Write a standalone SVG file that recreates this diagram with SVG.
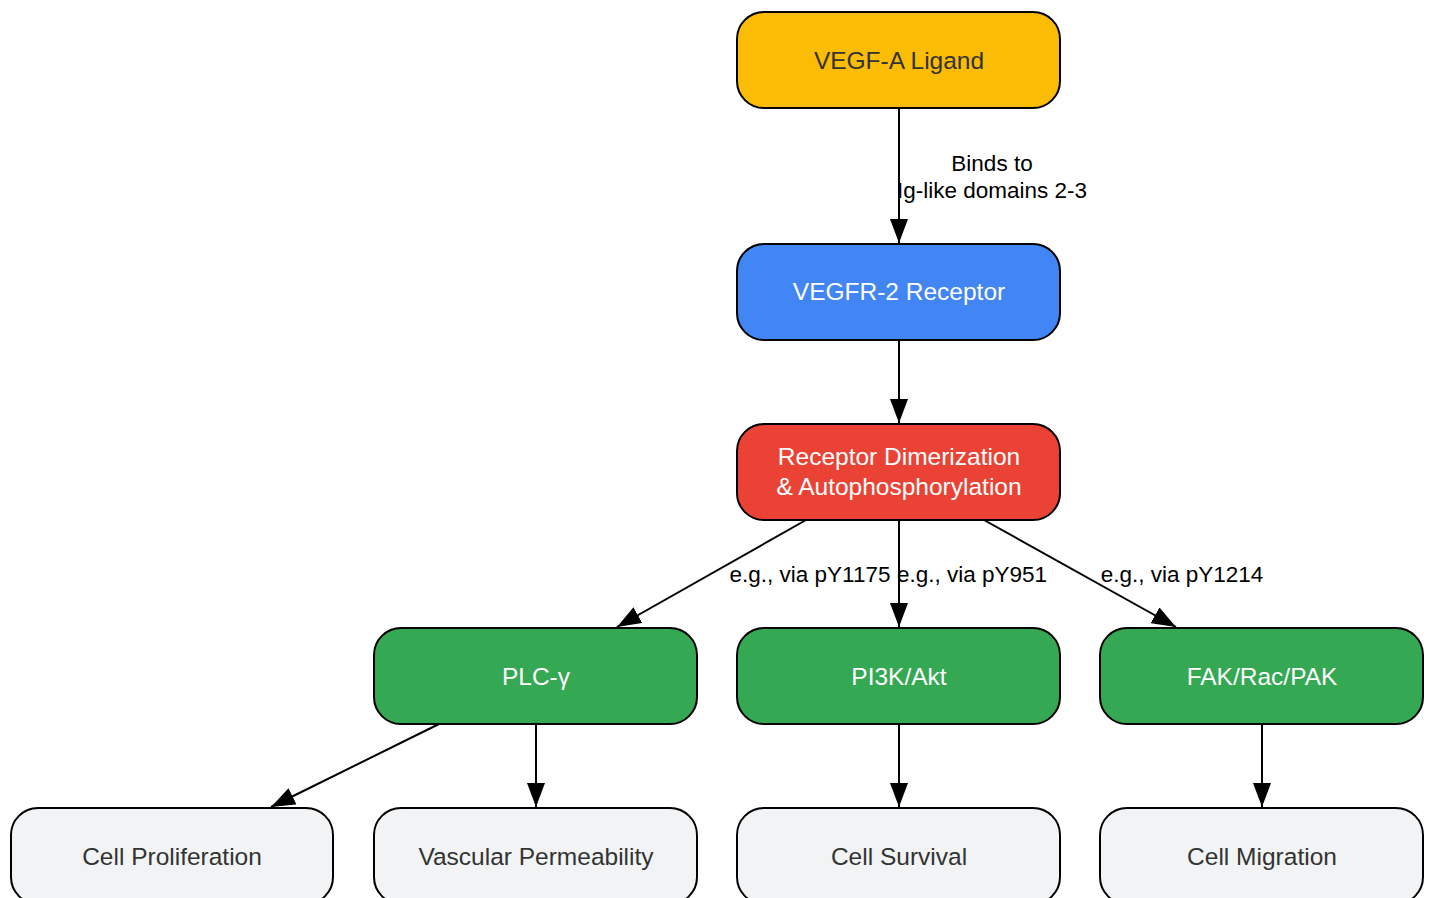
<svg xmlns="http://www.w3.org/2000/svg" width="1431" height="898" viewBox="0 0 1431 898">
<defs>
<marker id="arr" markerUnits="userSpaceOnUse" markerWidth="24" markerHeight="18" refX="24" refY="9" orient="auto">
<path d="M0,0 L24,9 L0,18 z" fill="#000"/>
</marker>
<style>
.n rect{stroke:#000;stroke-width:2}
.n text{font-family:"Liberation Sans",Arial,sans-serif;font-size:24.5px;text-anchor:middle}
.lt text{fill:#fff}
.dk text{fill:#333}
.e line{stroke:#000;stroke-width:2;marker-end:url(#arr)}
.lbl{font-family:"Liberation Sans",Arial,sans-serif;font-size:22.5px;text-anchor:middle;fill:#000}
</style>
</defs>
<rect width="1431" height="898" fill="#fff"/>
<g id="edge-labels">
<text class="lbl" x="992" y="171">Binds to</text>
<text class="lbl" x="992" y="198">Ig-like domains 2-3</text>
<text class="lbl" x="810" y="582">e.g., via pY1175</text>
<text class="lbl" x="972" y="582">e.g., via pY951</text>
<text class="lbl" x="1182" y="582">e.g., via pY1214</text>
</g>
<g id="edges" class="e">
<line x1="899" y1="108" x2="899" y2="243"/>
<line x1="899" y1="340" x2="899" y2="423"/>
<line x1="806" y1="520" x2="617" y2="627"/>
<line x1="899" y1="520" x2="899" y2="627"/>
<line x1="984" y1="520" x2="1176" y2="627"/>
<line x1="439" y1="724" x2="271" y2="807"/>
<line x1="536" y1="724" x2="536" y2="807"/>
<line x1="899" y1="724" x2="899" y2="807"/>
<line x1="1262" y1="724" x2="1262" y2="807"/>
</g>
<g id="vegfa" class="n dk"><rect x="737" y="12" width="323" height="96" rx="27" fill="#FBBC05"/><text x="899" y="69">VEGF-A Ligand</text></g>
<g id="vegfr2" class="n lt"><rect x="737" y="244" width="323" height="96" rx="27" fill="#4285F4"/><text x="899" y="300">VEGFR-2 Receptor</text></g>
<g id="dimer" class="n lt"><rect x="737" y="424" width="323" height="96" rx="27" fill="#EA4335"/><text x="899" y="465">Receptor Dimerization</text><text x="899" y="495">&amp; Autophosphorylation</text></g>
<g id="plc" class="n lt"><rect x="374" y="628" width="323" height="96" rx="27" fill="#34A853"/><text x="536" y="685">PLC-γ</text></g>
<g id="pi3k" class="n lt"><rect x="737" y="628" width="323" height="96" rx="27" fill="#34A853"/><text x="899" y="685">PI3K/Akt</text></g>
<g id="fak" class="n lt"><rect x="1100" y="628" width="323" height="96" rx="27" fill="#34A853"/><text x="1262" y="685">FAK/Rac/PAK</text></g>
<g id="prolif" class="n dk"><rect x="11" y="808" width="322" height="96" rx="27" fill="#F1F3F4"/><text x="172" y="865">Cell Proliferation</text></g>
<g id="perm" class="n dk"><rect x="374" y="808" width="323" height="96" rx="27" fill="#F1F3F4"/><text x="536" y="865">Vascular Permeability</text></g>
<g id="survival" class="n dk"><rect x="737" y="808" width="323" height="96" rx="27" fill="#F1F3F4"/><text x="899" y="865">Cell Survival</text></g>
<g id="migration" class="n dk"><rect x="1100" y="808" width="323" height="96" rx="27" fill="#F1F3F4"/><text x="1262" y="865">Cell Migration</text></g>
</svg>
